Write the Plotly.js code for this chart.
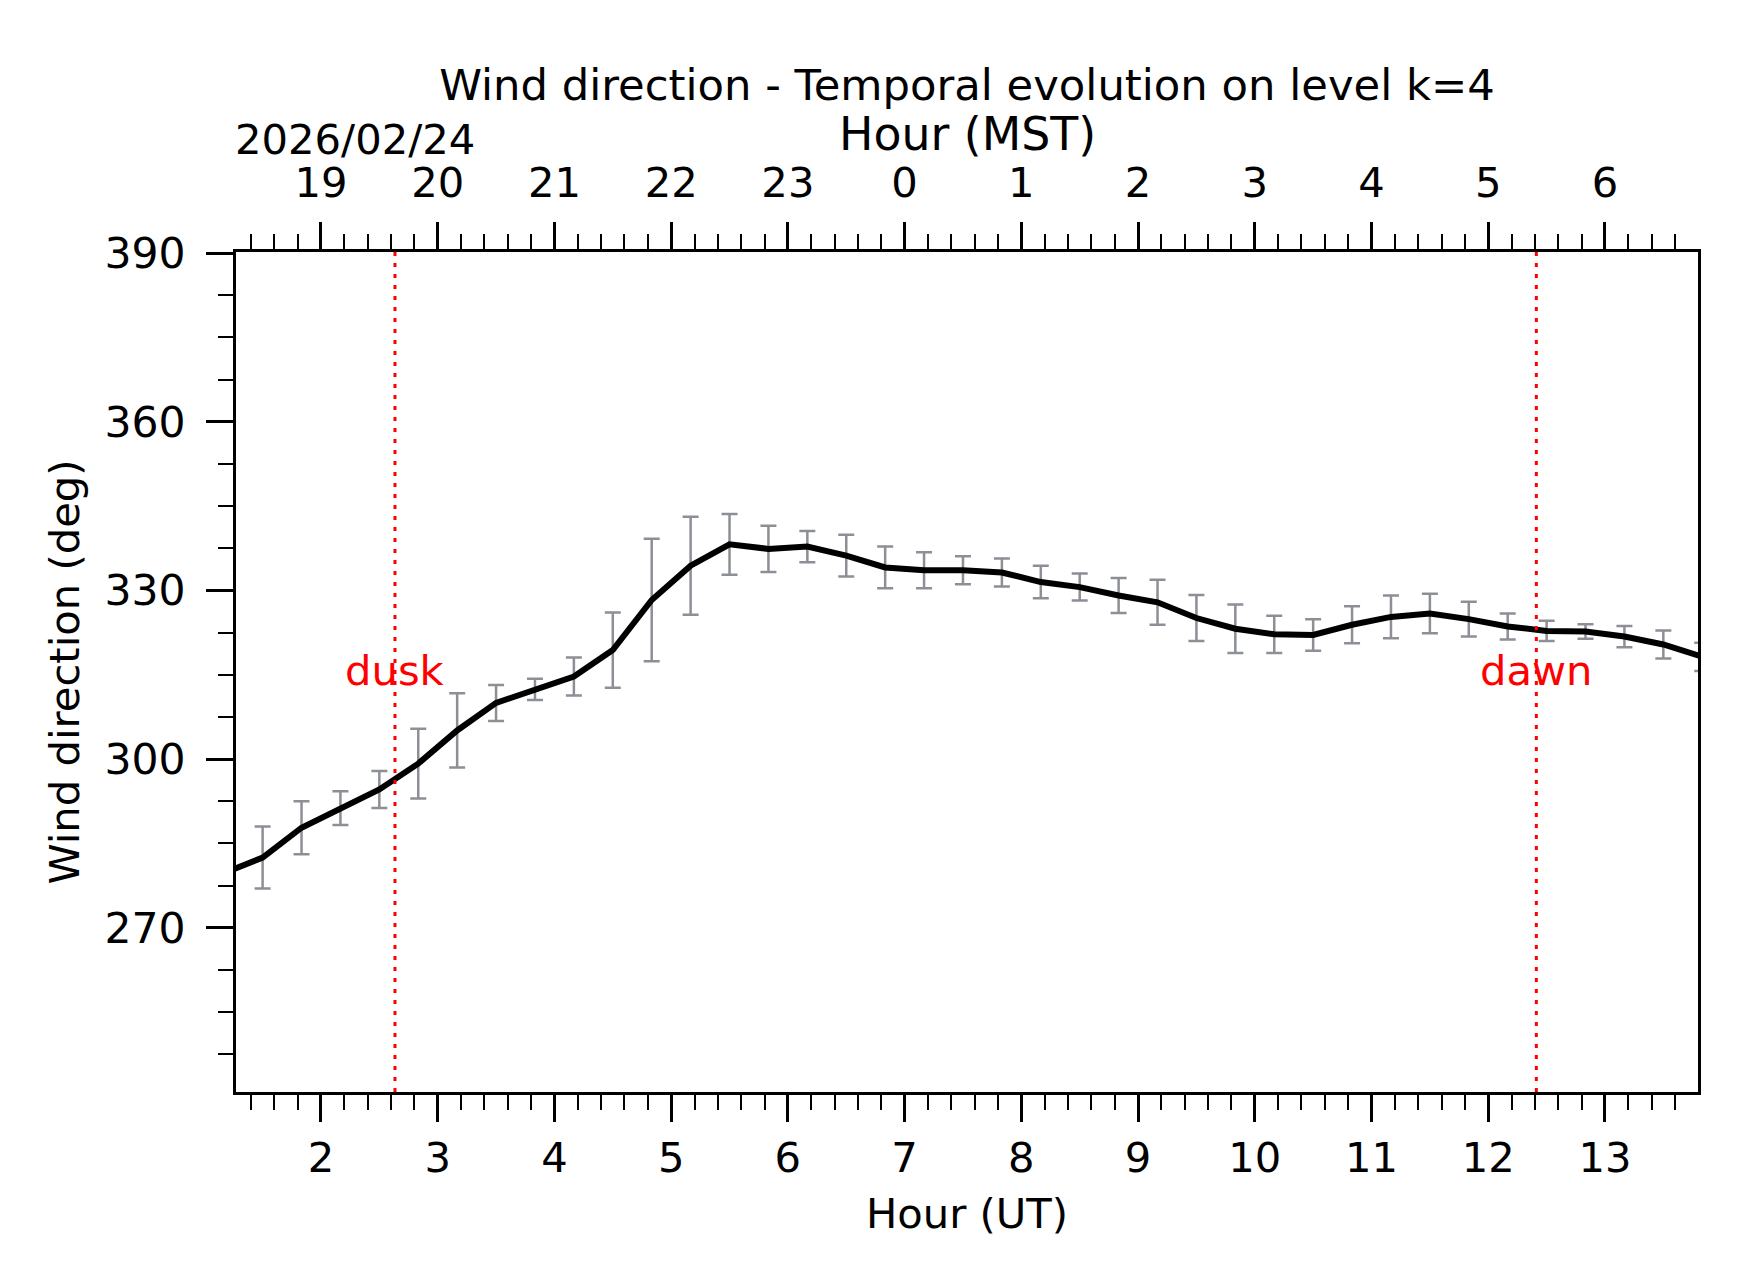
<!DOCTYPE html>
<html>
<head>
<meta charset="utf-8">
<script src="https://cdn.plot.ly/plotly-3.0.1.min.js"></script>
<style>html,body{margin:0;padding:0;background:#fff;}#chart{width:1742px;height:1282px;}</style>
</head>
<body>
<div id="chart"></div>
<script>
// ---- data ----
const timesUT = ["01:10","01:30","01:50","02:10","02:30","02:50","03:10","03:30","03:50","04:10",
  "04:30","04:50","05:10","05:30","05:50","06:10","06:30","06:50","07:10","07:30",
  "07:50","08:10","08:30","08:50","09:10","09:30","09:50","10:10","10:30","10:50",
  "11:10","11:30","11:50","12:10","12:30","12:50","13:10","13:30","13:50"];
const windDir = [279.7,282.5,287.8,291.3,294.6,299.2,305.1,310.0,312.4,314.7,
  319.4,328.3,334.4,338.2,337.4,337.8,336.2,334.1,333.6,333.6,
  333.2,331.5,330.6,329.1,327.9,325.1,323.2,322.2,322.1,323.9,
  325.3,325.9,324.9,323.6,322.8,322.7,321.8,320.4,318.2];
const windErr = [5.0,5.5,4.7,3.0,3.3,6.2,6.6,3.2,1.9,3.4,
  6.7,10.9,8.7,5.4,4.1,2.8,3.7,3.7,3.2,2.5,
  2.5,2.9,2.4,3.1,4.0,4.1,4.3,3.3,2.8,3.3,
  3.8,3.5,3.1,2.3,1.8,1.3,1.9,2.5,2.5];
const utTicks = [2,3,4,5,6,7,8,9,10,11,12,13];
const mstTickText = ["19","20","21","22","23","0","1","2","3","4","5","6"];
const yTicks = [270,300,330,360,390];
const duskUT = 2.634;
const dawnUT = 12.412;
const dateLabel = "2026/02/24";
const xRange = [1.272, 13.797];
const yRange = [240.8, 390.2];

// ---- build ----
const hours = timesUT.map(t => { const p = t.split(":"); return +p[0] + (+p[1]) / 60; });
const FONT = "DejaVu Sans, Liberation Sans, sans-serif";
const F10 = 41.7, FY = 42.5, FT = 43.3, FM = 45.8;

const traces = [
  { x: hours, y: windDir, type: "scatter", mode: "markers",
    marker: { size: 1, color: "rgba(0,0,0,0)" },
    error_y: { type: "data", array: windErr, visible: true, color: "#8c8f96", thickness: 2.5, width: 8 },
    hoverinfo: "skip", showlegend: false },
  { x: hours, y: windDir, type: "scatter", mode: "lines",
    line: { color: "#000000", width: 6 }, showlegend: false },
  { x: xRange, y: [null, null], xaxis: "x2", type: "scatter", mode: "lines", showlegend: false, hoverinfo: "skip" }
];

const tickCommon = {
  ticks: "outside", ticklen: 27, tickwidth: 3, tickcolor: "#000",
  showline: true, linecolor: "#000", linewidth: 3,
  showgrid: false, zeroline: false, automargin: false,
  tickfont: { family: FONT, size: F10, color: "#000" }
};

const layout = {
  width: 1742, height: 1282,
  margin: { l: 236, r: 44, t: 252, b: 190, pad: 0 },
  paper_bgcolor: "#fff", plot_bgcolor: "#fff",
  font: { family: FONT, color: "#000" },
  showlegend: false,
  title: { text: "Wind direction - Temporal evolution on level k=4",
    font: { family: FONT, size: FT, color: "#000" },
    xref: "paper", x: 0.5, xanchor: "center", yref: "container", y: 1 - 85 / 1282, yanchor: "middle" },
  xaxis: Object.assign({}, tickCommon, {
    range: xRange, tickmode: "array", tickvals: utTicks, ticktext: utTicks.map(String),
    ticklabelstandoff: 0,
    minor: { tickmode: "linear", tick0: 0, dtick: 0.2, ticks: "outside", ticklen: 15, tickwidth: 2, tickcolor: "#000" },
    title: { text: "Hour (UT)", font: { family: FONT, size: F10, color: "#000" }, standoff: 18 }
  }),
  xaxis2: Object.assign({}, tickCommon, {
    overlaying: "x", side: "top", anchor: "y",
    range: xRange, tickmode: "array", tickvals: utTicks, ticktext: mstTickText,
    ticklabelstandoff: 8,
    minor: { tickmode: "linear", tick0: 0, dtick: 0.2, ticks: "outside", ticklen: 15, tickwidth: 2, tickcolor: "#000" }
  }),
  yaxis: Object.assign({}, tickCommon, {
    range: yRange, tickmode: "array", tickvals: yTicks, ticktext: yTicks.map(String),
    mirror: true, ticklabelstandoff: 12,
    tickfont: { family: FONT, size: FY, color: "#000" },
    minor: { tickmode: "linear", tick0: 0, dtick: 7.5, ticks: "outside", ticklen: 15, tickwidth: 2, tickcolor: "#000" },
    title: { text: "Wind direction (deg)", font: { family: FONT, size: F10, color: "#000" }, standoff: 12 }
  }),
  shapes: [
    { type: "line", xref: "x", yref: "paper", x0: duskUT, x1: duskUT, y0: 0, y1: 1,
      line: { color: "#ff0000", width: 3, dash: "4px,7px" } },
    { type: "line", xref: "x", yref: "paper", x0: dawnUT, x1: dawnUT, y0: 0, y1: 1,
      line: { color: "#ff0000", width: 3, dash: "4px,7px" } }
  ],
  annotations: [
    { text: "dusk", xref: "x", yref: "y", x: duskUT, y: 315.8, xanchor: "center", yanchor: "middle",
      showarrow: false, font: { family: FONT, size: F10, color: "#ff0000" } },
    { text: "dawn", xref: "x", yref: "y", x: dawnUT, y: 315.8, xanchor: "center", yanchor: "middle",
      showarrow: false, font: { family: FONT, size: F10, color: "#ff0000" } },
    { text: dateLabel, xref: "paper", yref: "paper", x: 0, xshift: -3, y: (1092 - 139) / 840, xanchor: "left", yanchor: "middle",
      showarrow: false, font: { family: FONT, size: F10, color: "#000" } },
    { text: "Hour (MST)", xref: "paper", yref: "paper", x: 0.5, y: (1092 - 134) / 840, xanchor: "center", yanchor: "middle",
      showarrow: false, font: { family: FONT, size: FM, color: "#000" } }
  ]
};

Plotly.newPlot("chart", traces, layout, { staticPlot: true, displayModeBar: false });
</script>
</body>
</html>
